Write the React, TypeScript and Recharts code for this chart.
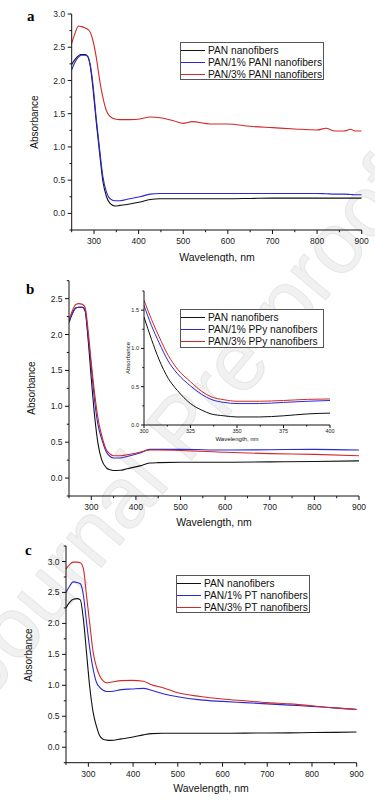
import React from 'react'
import { LineChart, Line, XAxis, YAxis, Legend } from 'recharts'

const FONT = '"Liberation Sans", Arial, sans-serif'
const INK = '#111'
const BLUE = '#2a2ad2'
const RED = '#d42828'
const SERIES_COLORS = [INK, BLUE, RED]

// ---- panel a: PAN / PANI ----
const aWl = [250, 258, 265, 272, 280, 286, 292, 298, 305, 313, 320, 328, 336, 347, 358, 380, 403, 426, 448, 480, 500, 520, 560, 600, 650, 700, 750, 800, 820, 840, 860, 875, 885, 900]
const aPan = [2.24, 2.32, 2.37, 2.39, 2.39, 2.36, 2.2, 1.86, 1.38, 0.88, 0.48, 0.25, 0.15, 0.11, 0.12, 0.14, 0.17, 0.21, 0.22, 0.22, 0.22, 0.22, 0.22, 0.22, 0.225, 0.23, 0.23, 0.23, 0.23, 0.23, 0.23, 0.23, 0.23, 0.23]
const aPani1 = [2.16, 2.28, 2.35, 2.38, 2.38, 2.36, 2.22, 1.92, 1.43, 0.94, 0.55, 0.32, 0.22, 0.19, 0.19, 0.22, 0.25, 0.29, 0.3, 0.3, 0.3, 0.3, 0.3, 0.3, 0.3, 0.3, 0.3, 0.3, 0.295, 0.29, 0.29, 0.285, 0.28, 0.28]
const aPani3 = [2.56, 2.72, 2.82, 2.81, 2.79, 2.77, 2.72, 2.59, 2.35, 1.99, 1.74, 1.54, 1.46, 1.42, 1.41, 1.41, 1.42, 1.45, 1.44, 1.39, 1.355, 1.38, 1.345, 1.345, 1.31, 1.29, 1.27, 1.255, 1.28, 1.24, 1.24, 1.265, 1.24, 1.24]
const aNames = ['PAN nanofibers', 'PAN/1% PANI nanofibers', 'PAN/3% PANI nanofibers']
const aYTicks = [-0.25, 0, 0.25, 0.5, 0.75, 1, 1.25, 1.5, 1.75, 2, 2.25, 2.5, 2.75, 3]

// ---- panel b: PAN / PPy ----
const bWl = [250, 258, 265, 272, 280, 286, 293, 300, 308, 315, 323, 334, 342, 350, 365, 380, 409, 431, 450, 500, 600, 700, 800, 900]
const bPan = [2.17, 2.3, 2.37, 2.38, 2.38, 2.33, 1.92, 1.38, 0.83, 0.48, 0.26, 0.14, 0.115, 0.105, 0.108, 0.13, 0.17, 0.21, 0.215, 0.22, 0.22, 0.225, 0.23, 0.24]
const bPpy1 = [2.17, 2.3, 2.37, 2.38, 2.38, 2.34, 1.98, 1.54, 1.05, 0.74, 0.55, 0.36, 0.3, 0.28, 0.28, 0.3, 0.35, 0.4, 0.4, 0.4, 0.39, 0.395, 0.4, 0.39]
const bPpy3 = [2.2, 2.34, 2.42, 2.43, 2.42, 2.38, 2.05, 1.6, 1.15, 0.83, 0.6, 0.39, 0.335, 0.31, 0.31, 0.325, 0.36, 0.39, 0.39, 0.385, 0.36, 0.34, 0.33, 0.31]
const bNames = ['PAN nanofibers', 'PAN/1% PPy nanofibers', 'PAN/3% PPy nanofibers']
const bYTicks = [-0.25, 0, 0.25, 0.5, 0.75, 1, 1.25, 1.5, 1.75, 2, 2.25, 2.5, 2.75]

// inset of panel b (300-400 nm)
const insetWl = [300, 304, 308, 313, 318, 325, 331, 336, 343, 350, 362, 375, 388, 400]
const insetPan = [1.41, 1.12, 0.86, 0.61, 0.45, 0.28, 0.195, 0.145, 0.12, 0.105, 0.105, 0.12, 0.145, 0.155]
const insetPpy1 = [1.56, 1.3, 1.08, 0.835, 0.67, 0.51, 0.4, 0.335, 0.295, 0.28, 0.28, 0.295, 0.31, 0.32]
const insetPpy3 = [1.63, 1.38, 1.16, 0.91, 0.73, 0.565, 0.44, 0.37, 0.33, 0.31, 0.31, 0.32, 0.335, 0.34]
const insetXTicks = [300, 312.5, 325, 337.5, 350, 362.5, 375, 387.5, 400]
const insetYTicks = [0, 0.25, 0.5, 0.75, 1, 1.25, 1.5, 1.75]

// ---- panel c: PAN / PT ----
const cWl = [250, 258, 266, 275, 282, 289, 296, 303, 311, 318, 325, 333, 341, 350, 374, 397, 423, 441, 467, 500, 550, 600, 650, 700, 750, 800, 850, 900]
const cPan = [2.25, 2.34, 2.39, 2.4, 2.38, 2.06, 1.52, 0.98, 0.55, 0.34, 0.19, 0.13, 0.115, 0.11, 0.135, 0.16, 0.2, 0.22, 0.225, 0.226, 0.226, 0.226, 0.228, 0.23, 0.232, 0.237, 0.24, 0.245]
const cPt1 = [2.5, 2.6, 2.67, 2.66, 2.64, 2.45, 2.01, 1.6, 1.25, 1.05, 0.97, 0.92, 0.9, 0.9, 0.93, 0.94, 0.95, 0.92, 0.865, 0.815, 0.765, 0.74, 0.72, 0.7, 0.68, 0.66, 0.635, 0.61]
const cPt3 = [2.88, 2.95, 2.99, 2.99, 2.98, 2.88, 2.44, 2.0, 1.52, 1.3, 1.16, 1.07, 1.04, 1.05, 1.075, 1.08, 1.065, 1.01, 0.96, 0.88, 0.82, 0.78, 0.75, 0.72, 0.7, 0.67, 0.635, 0.61]
const cNames = ['PAN nanofibers', 'PAN/1% PT nanofibers', 'PAN/3% PT nanofibers']
const cYTicks = [-0.25, 0, 0.25, 0.5, 0.75, 1, 1.25, 1.5, 1.75, 2, 2.25, 2.5, 2.75, 3, 3.25]

const xTicks = [250, 300, 350, 400, 450, 500, 550, 600, 650, 700, 750, 800, 850, 900]

const toRows = (wl: number[], s0: number[], s1: number[], s2: number[]) =>
  wl.map((w, i) => ({ wl: w, pan: s0[i], low: s1[i], high: s2[i] }))

const isHalf = (v: number) => Math.abs(v * 2 - Math.round(v * 2)) < 1e-9

type TickOpts = { major: (v: number) => boolean; fmt: (v: number) => string; len: number; gap: number; font: number }

const bottomTick = (o: TickOpts) => (p: any) => {
  const { x, y, payload } = p
  const v = payload.value
  const mj = o.major(v)
  return (
    <g>
      <line x1={x} x2={x} y1={y} y2={y + (mj ? o.len : o.len * 0.55)} stroke={INK} />
      {mj && (
        <text x={x} y={y + o.gap} textAnchor="middle" fontSize={o.font} fontFamily={FONT} fill="#222">
          {o.fmt(v)}
        </text>
      )}
    </g>
  )
}

const topTick = (o: TickOpts) => (p: any) => {
  const { x, y, payload } = p
  const mj = o.major(payload.value)
  return <line x1={x} x2={x} y1={y} y2={y - (mj ? o.len : o.len * 0.55)} stroke={INK} />
}

const leftTick = (o: TickOpts) => (p: any) => {
  const { x, y, payload } = p
  const v = payload.value
  const mj = o.major(v)
  return (
    <g>
      <line x1={x} x2={x - (mj ? o.len : o.len * 0.55)} y1={y} y2={y} stroke={INK} />
      {mj && v >= 0 && (
        <text x={x - o.gap} y={y + o.font * 0.36} textAnchor="end" fontSize={o.font} fontFamily={FONT} fill="#222">
          {o.fmt(v)}
        </text>
      )}
    </g>
  )
}

const LegendBox = ({ payload, w, h, font }: any) => (
  <div
    style={{
      width: w,
      height: h,
      boxSizing: 'border-box',
      border: '1px solid #555',
      background: '#fff',
      paddingTop: 1,
    }}
  >
    {(payload || []).map((it: any, i: number) => (
      <div
        key={it.value}
        style={{ display: 'flex', alignItems: 'center', height: 12.4, fontFamily: FONT, fontSize: font, color: '#111', whiteSpace: 'nowrap' }}
      >
        <span
          style={{
            display: 'inline-block',
            width: 24,
            height: 0,
            borderTopWidth: 1.3,
            borderTopStyle: 'solid',
            borderTopColor: SERIES_COLORS[i % 3],
            marginRight: 3,
          }}
        />
        {it.value}
      </div>
    ))}
  </div>
)

type PanelProps = {
  top: number
  height: number
  plot: { left: number; right: number; top: number; bottom: number }
  rows: any[]
  names: string[]
  yDomain: [number, number]
  yTicks: number[]
  legend: { left: number; top: number; w: number; h: number } | null
  yTitle: { x: number; y: number }
  xTitle: { x: number; y: number }
}

function Panel({ top, height, plot, rows, names, yDomain, yTicks, legend, yTitle, xTitle }: PanelProps) {
  const xo: TickOpts = { major: v => v % 100 === 0, fmt: v => String(v), len: 4, gap: 14, font: 8.5 }
  const yo: TickOpts = { major: isHalf, fmt: v => v.toFixed(1), len: 4, gap: 6.5, font: 8.5 }
  return (
    <div style={{ position: 'absolute', left: 0, top, width: 375, height }}>
      <LineChart
        width={375}
        height={height}
        data={rows}
        margin={{ top: plot.top, right: 375 - plot.right, left: 0, bottom: 0 }}
      >
        <XAxis
          dataKey="wl"
          type="number"
          domain={[250, 900]}
          allowDataOverflow
          ticks={xTicks}
          interval={0}
          height={height - plot.bottom}
          tickSize={0}
          tickMargin={0}
          tickLine={false}
          tick={bottomTick(xo)}
          axisLine={{ stroke: INK }}
          label={() => (
            <text x={xTitle.x} y={xTitle.y} textAnchor="middle" fontSize={10.5} fontFamily={FONT} fill="#111">
              Wavelength, nm
            </text>
          )}
        />
        <XAxis
          xAxisId="top"
          orientation="top"
          dataKey="wl"
          type="number"
          domain={[250, 900]}
          allowDataOverflow
          ticks={xTicks}
          interval={0}
          height={0}
          tickSize={0}
          tickMargin={0}
          tickLine={false}
          tick={topTick(xo)}
          axisLine={{ stroke: INK }}
        />
        <YAxis
          type="number"
          domain={yDomain}
          allowDataOverflow
          ticks={yTicks}
          interval={0}
          width={plot.left}
          tickSize={0}
          tickMargin={0}
          tickLine={false}
          tick={leftTick(yo)}
          axisLine={{ stroke: INK }}
          label={() => (
            <text
              x={yTitle.x}
              y={yTitle.y}
              transform={`rotate(-90 ${yTitle.x} ${yTitle.y})`}
              textAnchor="middle"
              dominantBaseline="central"
              fontSize={10}
              fontFamily={FONT}
              fill="#111"
            >
              Absorbance
            </text>
          )}
        />
        <YAxis
          yAxisId="right"
          orientation="right"
          type="number"
          domain={yDomain}
          allowDataOverflow
          ticks={yTicks}
          width={0}
          tick={false}
          tickLine={false}
          axisLine={{ stroke: INK }}
        />
        <Line type="monotone" dataKey="pan" name={names[0]} stroke={INK} strokeWidth={1.1} dot={false} isAnimationActive={false} />
        <Line type="monotone" dataKey="low" name={names[1]} stroke={BLUE} strokeWidth={1.1} dot={false} isAnimationActive={false} />
        <Line type="monotone" dataKey="high" name={names[2]} stroke={RED} strokeWidth={1.1} dot={false} isAnimationActive={false} />
        {legend && (
          <Legend
            layout="vertical"
            align="center"
            verticalAlign="middle"
            wrapperStyle={{ left: legend.left, top: legend.top, width: legend.w, margin: 0, padding: 0 }}
            content={(p: any) => <LegendBox {...p} w={legend.w} h={legend.h} font={10.2} />}
          />
        )}
      </LineChart>
    </div>
  )
}

function Inset() {
  const xo: TickOpts = { major: v => v % 25 === 0, fmt: v => String(v), len: 3, gap: 8, font: 5.5 }
  const yo: TickOpts = { major: isHalf, fmt: v => v.toFixed(1), len: 3, gap: 5, font: 5.5 }
  const rows = toRows(insetWl, insetPan, insetPpy1, insetPpy3)
  return (
    <div style={{ position: 'absolute', left: 100, top: 280, width: 240, height: 165 }}>
      <LineChart width={240} height={165} data={rows} margin={{ top: 11, right: 10, left: 0, bottom: 0 }}>
        <XAxis
          dataKey="wl"
          type="number"
          domain={[300, 400]}
          allowDataOverflow
          ticks={insetXTicks}
          interval={0}
          height={20}
          tickSize={0}
          tickMargin={0}
          tickLine={false}
          tick={bottomTick(xo)}
          axisLine={{ stroke: INK }}
          label={() => (
            <text x={137} y={161} textAnchor="middle" fontSize={6} fontFamily={FONT} fill="#111">
              Wavelength, nm
            </text>
          )}
        />
        <XAxis
          xAxisId="top"
          orientation="top"
          dataKey="wl"
          type="number"
          domain={[300, 400]}
          allowDataOverflow
          ticks={insetXTicks}
          interval={0}
          height={0}
          tickSize={0}
          tickMargin={0}
          tickLine={false}
          tick={topTick(xo)}
          axisLine={{ stroke: INK }}
        />
        <YAxis
          type="number"
          domain={[0, 1.75]}
          allowDataOverflow
          ticks={insetYTicks}
          interval={0}
          width={44}
          tickSize={0}
          tickMargin={0}
          tickLine={false}
          tick={leftTick(yo)}
          axisLine={{ stroke: INK }}
          label={() => (
            <text
              x={27.7}
              y={78}
              transform="rotate(-90 27.7 78)"
              textAnchor="middle"
              dominantBaseline="central"
              fontSize={6}
              fontFamily={FONT}
              fill="#111"
            >
              Absorbance
            </text>
          )}
        />
        <YAxis
          yAxisId="right"
          orientation="right"
          type="number"
          domain={[0, 1.75]}
          allowDataOverflow
          ticks={insetYTicks}
          width={0}
          tick={false}
          tickLine={false}
          axisLine={{ stroke: INK }}
        />
        <Line type="monotone" dataKey="pan" name={bNames[0]} stroke={INK} strokeWidth={1} dot={false} isAnimationActive={false} />
        <Line type="monotone" dataKey="low" name={bNames[1]} stroke={BLUE} strokeWidth={1} dot={false} isAnimationActive={false} />
        <Line type="monotone" dataKey="high" name={bNames[2]} stroke={RED} strokeWidth={1} dot={false} isAnimationActive={false} />
        <Legend
          layout="vertical"
          align="center"
          verticalAlign="middle"
          wrapperStyle={{ left: 80, top: 29, width: 144, margin: 0, padding: 0 }}
          content={(p: any) => <LegendBox {...p} w={144} h={39} font={10.2} />}
        />
      </LineChart>
    </div>
  )
}

const letterStyle = (left: number, top: number): React.CSSProperties => ({
  position: 'absolute',
  left,
  top,
  fontFamily: '"Liberation Serif", "Times New Roman", serif',
  fontWeight: 'bold',
  fontSize: 15,
  lineHeight: '15px',
  color: '#000',
})

export default function App() {
  return (
    <div style={{ position: 'absolute', left: 0, top: 0, width: 375, height: 800, background: '#fff', overflow: 'hidden' }}>
      <svg width={375} height={800} style={{ position: 'absolute', left: 0, top: 0 }}>
        <text
          x={-10}
          y={700}
          transform="rotate(-50 -10 700)"
          fontSize={86}
          fontFamily={FONT}
          fill="#f1f1f1"
          stroke="#e6e6e6"
          strokeWidth={1}
        >
          Journal Pre-proof
        </text>
      </svg>

      <Panel
        top={0}
        height={262}
        plot={{ left: 71.7, right: 361.7, top: 14, bottom: 230 }}
        rows={toRows(aWl, aPan, aPani1, aPani3)}
        names={aNames}
        yDomain={[-0.25, 3]}
        yTicks={aYTicks}
        legend={{ left: 180, top: 42, w: 144, h: 38 }}
        yTitle={{ x: 34, y: 122 }}
        xTitle={{ x: 217, y: 260.5 }}
      />
      <Panel
        top={270}
        height={262}
        plot={{ left: 69, right: 359, top: 10.7, bottom: 226 }}
        rows={toRows(bWl, bPan, bPpy1, bPpy3)}
        names={bNames}
        yDomain={[-0.25, 2.75]}
        yTicks={bYTicks}
        legend={null}
        yTitle={{ x: 31, y: 118 }}
        xTitle={{ x: 214, y: 255.5 }}
      />
      <Inset />
      <Panel
        top={532}
        height={268}
        plot={{ left: 66, right: 356.7, top: 14, bottom: 230.7 }}
        rows={toRows(cWl, cPan, cPt1, cPt3)}
        names={cNames}
        yDomain={[-0.25, 3.25]}
        yTicks={cYTicks}
        legend={{ left: 176, top: 43, w: 134, h: 38 }}
        yTitle={{ x: 28, y: 123 }}
        xTitle={{ x: 211, y: 259.5 }}
      />

      <div style={letterStyle(27, 9)}>a</div>
      <div style={letterStyle(26, 282)}>b</div>
      <div style={letterStyle(25, 543)}>c</div>
    </div>
  )
}
